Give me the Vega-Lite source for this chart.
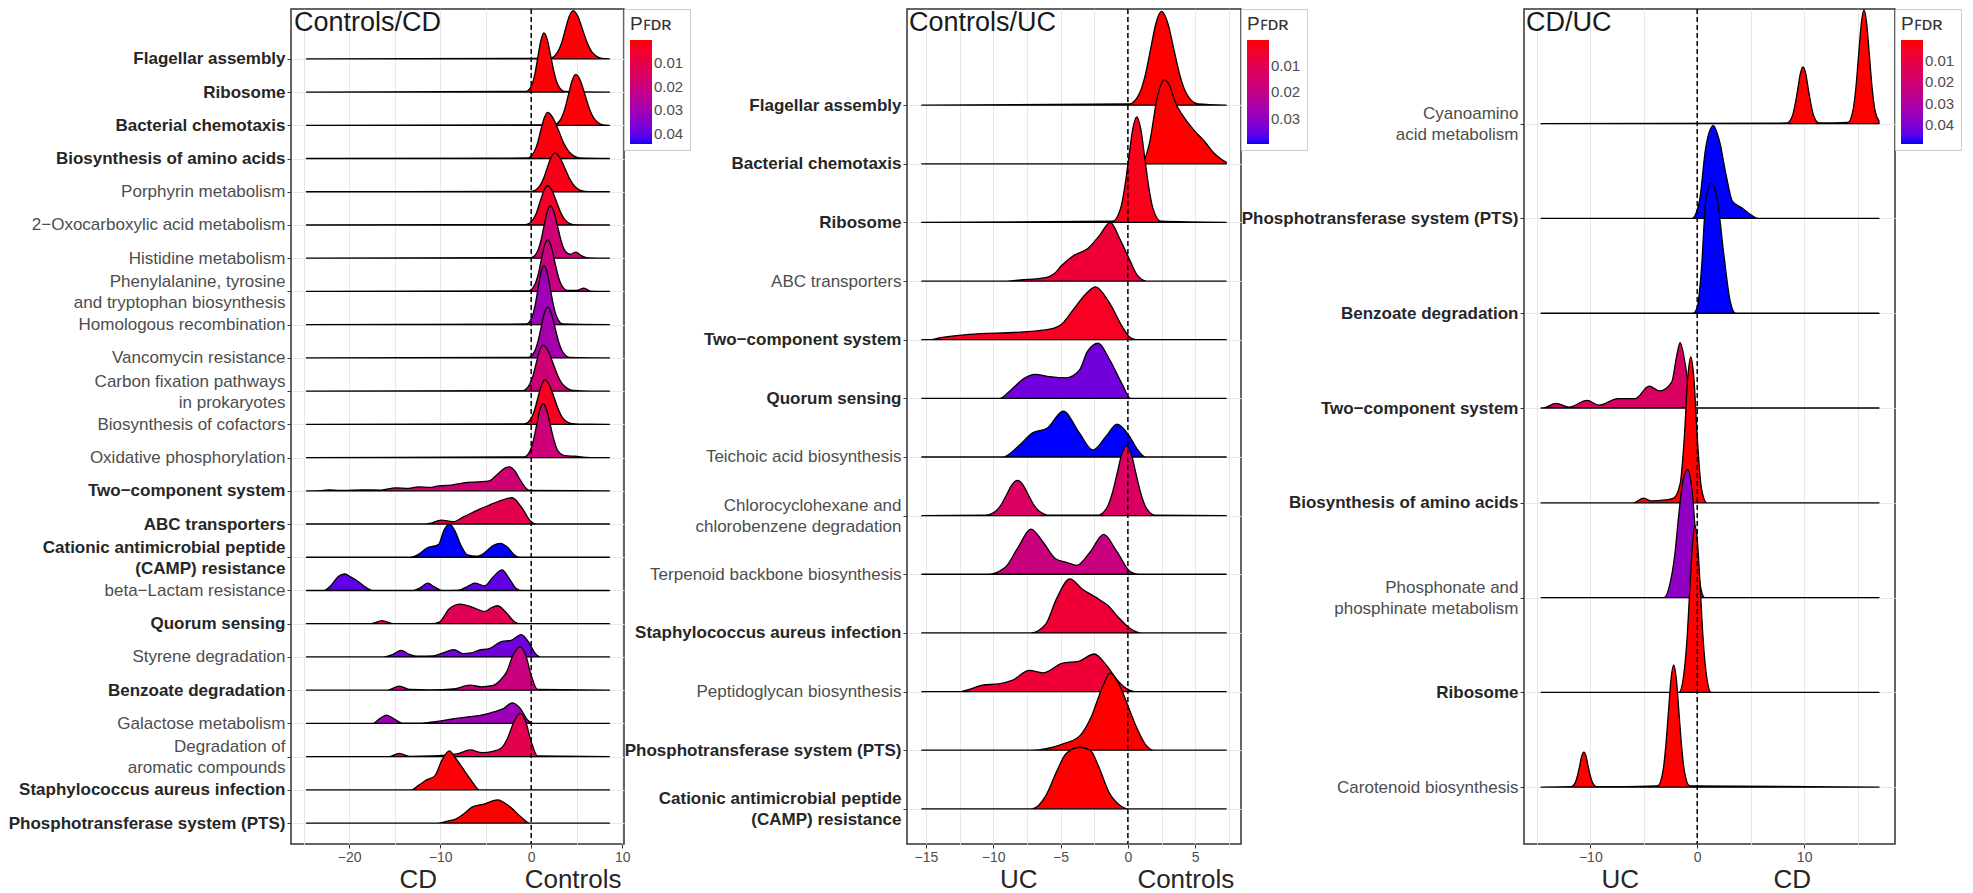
{
  "$schema": "https://vega.github.io/schema/vega-lite/v6.json",
  "background": "white",
  "padding": {"left": 7, "top": 7, "right": 5, "bottom": 0},
  "config": {
    "font": "Liberation Sans",
    "view": {"stroke": "#333333", "strokeWidth": 1.5},
    "axis": {"domain": false, "gridColor": "#e8e8e8", "gridWidth": 1, "tickColor": "#333333", "tickSize": 4, "tickWidth": 1, "labelColor": "#4d4d4d", "labelFont": "Liberation Sans", "labelOverlap": false, "labelBound": false, "labelFlush": false, "labelPadding": 2, "labelLimit": 0},
    "axisX": {"labelFontSize": 14},
    "axisY": {"labelFontSize": 17, "labelLineHeight": 21},
    "legend": {"offset": 0, "padding": 6, "strokeColor": "#cccccc", "gradientLength": 104, "gradientThickness": 22, "labelFontSize": 15, "labelColor": "#4d4d4d", "labelOffset": 3, "titleFontSize": 19, "titleFontWeight": "normal", "titleColor": "#333333", "titlePadding": 6, "gradientStrokeWidth": 0}
  },
  "datasets": {
    "ridges": [
      {"panel":1,"row":24,"p":0.0005,"x":[-24.7,2.05,2.9,3.33,3.75,4.18,4.6,5.13,5.65,6.18,6.7,7.75,8.6],"d":[0,0.015,0.2,0.47,0.88,1.28,1.45,1.28,0.88,0.47,0.2,0.015,0]},
      {"panel":1,"row":23,"p":0.0005,"x":[-24.7,-0.55,0.1,0.43,0.75,1.08,1.4,1.78,2.15,2.53,2.9,3.65,8.6],"d":[0,0.02,0.24,0.58,1.08,1.57,1.78,1.57,1.08,0.58,0.24,0.02,0]},
      {"panel":1,"row":22,"p":0.0005,"x":[-24.7,2.5,3.3,3.7,4.1,4.5,4.9,5.4,5.9,6.4,6.9,7.9,8.6],"d":[0,0.015,0.21,0.5,0.93,1.35,1.53,1.35,0.93,0.5,0.21,0.015,0]},
      {"panel":1,"row":21,"p":0.001,"x":[-24.7,-0.45,0.3,0.68,1.05,1.43,1.8,2.4,3.0,3.6,4.2,5.4,8.6],"d":[0,0.015,0.19,0.45,0.85,1.22,1.39,1.22,0.85,0.45,0.19,0.015,0]},
      {"panel":1,"row":20,"p":0.002,"x":[-24.7,0.05,0.9,1.33,1.75,2.18,2.6,3.15,3.7,4.25,4.8,5.9,8.6],"d":[0,0.013,0.16,0.38,0.71,1.03,1.17,1.03,0.71,0.38,0.16,0.013,0]},
      {"panel":1,"row":19,"p":0.004,"x":[-24.7,-0.6,0.2,0.6,1.0,1.4,1.8,2.28,2.75,3.23,3.7,4.65,8.6],"d":[0,0.013,0.16,0.38,0.72,1.04,1.18,1.04,0.72,0.38,0.16,0.013,0]},
      {"panel":1,"row":18,"p":0.018,"x":[-24.7,0.0,0.7,1.05,1.4,1.75,2.1,2.5,2.9,3.3,3.7,4.3,4.9,5.5,6.3,8.6],"d":[0,0.017,0.21,0.51,0.96,1.39,1.58,1.39,0.96,0.51,0.23,0.12,0.18,0.08,0.01,0]},
      {"panel":1,"row":17,"p":0.02,"x":[-24.7,-0.3,0.4,0.75,1.1,1.45,1.8,2.18,2.55,2.93,3.3,4.0,5.0,5.8,6.5,8.6],"d":[0,0.017,0.21,0.5,0.94,1.37,1.55,1.37,0.94,0.5,0.21,0.03,0.03,0.1,0.01,0]},
      {"panel":1,"row":16,"p":0.031,"x":[-24.7,-0.55,0.1,0.43,0.75,1.08,1.4,1.75,2.1,2.45,2.8,3.5,8.6],"d":[0,0.02,0.24,0.58,1.08,1.57,1.78,1.57,1.08,0.58,0.24,0.02,0]},
      {"panel":1,"row":15,"p":0.029,"x":[-24.7,-0.3,0.4,0.75,1.1,1.45,1.8,2.2,2.6,3.0,3.4,4.2,8.6],"d":[0,0.017,0.21,0.5,0.93,1.35,1.53,1.35,0.93,0.5,0.21,0.017,0]},
      {"panel":1,"row":14,"p":0.018,"x":[-24.7,-0.95,-0.2,0.18,0.55,0.93,1.3,1.85,2.4,2.95,3.5,4.6,5.6,8.6],"d":[0,0.015,0.19,0.45,0.84,1.22,1.38,1.22,0.84,0.45,0.19,0.02,0.005,0]},
      {"panel":1,"row":13,"p":0.003,"x":[-24.7,-0.75,0.0,0.38,0.75,1.13,1.5,2.0,2.5,3.0,3.5,4.5,5.3,8.6],"d":[0,0.015,0.18,0.44,0.82,1.18,1.34,1.18,0.82,0.44,0.18,0.02,0.005,0]},
      {"panel":1,"row":12,"p":0.019,"x":[-24.7,-0.8,-0.1,0.25,0.6,0.95,1.3,1.7,2.1,2.5,2.9,3.7,4.8,6.5,8.6],"d":[0,0.018,0.22,0.53,0.98,1.43,1.62,1.43,0.98,0.53,0.22,0.06,0.04,0.0,0]},
      {"panel":1,"row":11,"p":0.018,"x":[-24.7,-23.0,-22.2,-21.0,-18.5,-16.5,-14.9,-13.5,-12.4,-11.2,-10.1,-8.8,-7.4,-5.9,-4.6,-3.7,-2.9,-2.4,-1.8,-1.3,-0.7,-0.2,8.6],"d":[0,0.005,0.03,0.01,0.03,0.02,0.09,0.07,0.12,0.1,0.15,0.17,0.24,0.27,0.3,0.5,0.68,0.72,0.6,0.37,0.12,0.01,0]},
      {"panel":1,"row":10,"p":0.011,"x":[-24.7,-12.0,-11.0,-9.9,-8.6,-7.4,-5.9,-4.6,-3.2,-2.1,-1.1,0.0,0.6,8.6],"d":[0,0,0.03,0.12,0.07,0.22,0.42,0.57,0.72,0.79,0.52,0.07,0,0]},
      {"panel":1,"row":9,"p":0.0443,"x":[-24.7,-13.3,-12.3,-11.5,-10.2,-9.6,-9.0,-8.4,-7.7,-7.0,-6.0,-5.2,-4.2,-3.4,-2.6,-1.8,-1.2,8.6],"d":[0,0,0.1,0.27,0.38,0.8,1.0,0.8,0.35,0.07,0.03,0.12,0.35,0.42,0.3,0.06,0,0]},
      {"panel":1,"row":8,"p":0.04,"x":[-24.7,-22.8,-22.0,-21.2,-20.5,-19.8,-18.9,-18.2,-17.4,-13.0,-12.2,-11.4,-10.6,-9.8,-8.0,-7.0,-6.2,-5.1,-4.2,-3.2,-2.4,-1.6,-1.0,8.6],"d":[0,0,0.15,0.42,0.5,0.4,0.25,0.1,0,0,0.08,0.22,0.1,0,0.01,0.12,0.22,0.14,0.4,0.62,0.35,0.05,0,0]},
      {"panel":1,"row":7,"p":0.012,"x":[-24.7,-17.6,-16.4,-15.2,-11.0,-10.1,-9.0,-7.8,-6.5,-5.1,-4.4,-3.7,-2.8,-1.8,-1.2,8.6],"d":[0,0,0.09,0,0,0.05,0.45,0.59,0.5,0.37,0.48,0.54,0.35,0.05,0,0]},
      {"panel":1,"row":6,"p":0.038,"x":[-24.7,-16.2,-15.2,-14.3,-13.4,-12.5,-10.8,-9.7,-8.5,-7.5,-6.6,-5.8,-4.6,-3.2,-2.2,-1.1,-0.3,0.4,1.0,8.6],"d":[0,0,0.08,0.2,0.08,0.02,0.03,0.12,0.22,0.1,0.12,0.2,0.25,0.47,0.5,0.67,0.45,0.12,0,0]},
      {"panel":1,"row":5,"p":0.02,"x":[-24.7,-15.8,-14.5,-13.3,-11.0,-8.5,-6.7,-5.5,-4.2,-3.4,-2.7,-2.0,-1.2,-0.6,0.0,0.7,8.6],"d":[0,0,0.12,0.02,0.01,0.04,0.15,0.1,0.14,0.3,0.55,1.05,1.3,1.05,0.45,0.02,0]},
      {"panel":1,"row":4,"p":0.031,"x":[-24.7,-17.4,-16.6,-15.9,-15.0,-14.2,-12.0,-10.1,-8.5,-7.4,-5.5,-4.1,-3.0,-2.1,-1.2,-0.4,0.2,8.6],"d":[0,0,0.15,0.25,0.12,0.01,0.01,0.07,0.14,0.18,0.25,0.35,0.45,0.62,0.45,0.1,0,0]},
      {"panel":1,"row":3,"p":0.011,"x":[-24.7,-15.6,-14.5,-13.4,-11.0,-8.2,-6.7,-5.4,-4.2,-3.3,-2.6,-1.9,-1.2,-0.6,0.0,0.7,8.6],"d":[0,0,0.1,0.01,0.02,0.08,0.2,0.12,0.16,0.25,0.55,1.05,1.3,1.05,0.45,0.02,0]},
      {"panel":1,"row":2,"p":0.0005,"x":[-24.7,-13.2,-12.3,-11.5,-10.6,-9.8,-9.0,-8.3,-7.4,-6.5,-5.7,8.6],"d":[0,0,0.15,0.3,0.42,0.9,1.17,0.95,0.6,0.25,0,0]},
      {"panel":1,"row":1,"p":0.0,"x":[-24.7,-10.3,-9.2,-8.3,-7.4,-6.5,-5.1,-3.7,-2.3,-1.1,-0.2,8.6],"d":[0,0,0.06,0.12,0.28,0.48,0.58,0.7,0.48,0.18,0,0]},

      {"panel":2,"row":13,"p":0.0,"x":[-15.3,0.1,0.9,1.3,1.7,2.1,2.5,2.95,3.4,3.85,4.3,5.2,7.3],"d":[0,0.02,0.22,0.52,0.97,1.41,1.6,1.41,0.97,0.52,0.22,0.02,0]},
      {"panel":2,"row":12,"p":0.0,"x":[-15.3,1.0,1.6,2.2,2.7,3.1,3.5,4.0,4.4,5.0,5.7,6.4,7.0,7.3],"d":[0,0,0.35,1.15,1.43,1.33,1.06,0.85,0.72,0.55,0.38,0.18,0.07,0.03]},
      {"panel":2,"row":11,"p":0.002,"x":[-15.3,-1.14,-0.54,-0.24,0.06,0.36,0.66,0.96,1.26,1.56,1.86,2.46,7.3],"d":[0,0.02,0.24,0.59,1.09,1.59,1.8,1.59,1.09,0.59,0.24,0.02,0]},
      {"panel":2,"row":10,"p":0.006,"x":[-15.3,-9.0,-8.0,-6.1,-5.5,-4.9,-4.0,-3.0,-2.1,-1.3,-0.6,0.1,0.7,1.4,7.3],"d":[0,0,0.02,0.06,0.12,0.27,0.44,0.55,0.78,1.0,0.72,0.38,0.1,0,0]},
      {"panel":2,"row":9,"p":0.003,"x":[-15.3,-14.6,-14.0,-11.8,-8.0,-5.8,-4.9,-4.0,-3.0,-2.4,-1.4,-0.4,0.1,0.6,7.3],"d":[0,0,0.03,0.09,0.13,0.18,0.27,0.53,0.81,0.9,0.64,0.22,0.05,0,0]},
      {"panel":2,"row":8,"p":0.034,"x":[-15.3,-9.5,-8.7,-7.7,-6.9,-5.8,-4.6,-3.6,-3.0,-2.2,-1.4,-0.4,0.2,7.3],"d":[0,0,0.14,0.34,0.41,0.37,0.35,0.48,0.8,0.94,0.68,0.23,0,0]},
      {"panel":2,"row":7,"p":0.0397,"x":[-15.3,-9.3,-8.1,-7.1,-6.0,-4.8,-3.6,-2.6,-1.6,-0.8,0.1,0.7,1.3,7.3],"d":[0,0,0.19,0.41,0.49,0.78,0.41,0.12,0.36,0.56,0.36,0.13,0,0]},
      {"panel":2,"row":6,"p":0.013,"x":[-15.3,-10.6,-9.8,-9.4,-9.0,-8.6,-8.2,-7.8,-7.4,-7.0,-6.6,-5.8,-2.2,-1.5,-1.15,-0.8,-0.45,-0.1,0.25,0.6,0.95,1.3,2.0,7.3],"d":[0,0.007,0.08,0.19,0.36,0.53,0.6,0.53,0.36,0.19,0.08,0.007,0.01,0.16,0.39,0.72,1.05,1.19,1.05,0.72,0.39,0.16,0.01,0]},
      {"panel":2,"row":5,"p":0.018,"x":[-15.3,-10.4,-9.1,-8.2,-7.2,-6.3,-5.4,-4.5,-3.8,-2.8,-1.8,-0.8,0.2,0.8,7.3],"d":[0,0,0.12,0.44,0.77,0.55,0.27,0.2,0.15,0.38,0.68,0.38,0.04,0,0]},
      {"panel":2,"row":4,"p":0.006,"x":[-15.3,-7.2,-6.1,-5.3,-4.3,-3.4,-2.4,-1.5,-0.6,0.2,1.0,7.3],"d":[0,0,0.15,0.58,0.92,0.75,0.61,0.47,0.24,0.07,0,0]},
      {"panel":2,"row":3,"p":0.006,"x":[-15.3,-12.4,-11.6,-10.8,-9.6,-8.6,-7.3,-6.3,-4.9,-3.6,-2.5,-1.6,-0.8,-0.1,0.5,7.3],"d":[0,0,0.05,0.11,0.13,0.19,0.36,0.32,0.48,0.52,0.64,0.45,0.2,0.05,0,0]},
      {"panel":2,"row":2,"p":0.0,"x":[-15.3,-7.2,-4.9,-3.6,-2.7,-1.9,-1.3,-0.6,0.1,0.7,1.3,1.9,7.3],"d":[0,0,0.1,0.24,0.58,1.07,1.32,1.1,0.7,0.36,0.1,0,0]},
      {"panel":2,"row":1,"p":0.0,"x":[-15.3,-7.1,-6.1,-5.3,-4.6,-3.6,-2.8,-2.2,-1.4,-0.6,0.0,7.3],"d":[0,0,0.22,0.63,0.94,1.05,1.0,0.74,0.28,0.06,0,0]},

      {"panel":3,"row":8,"p":0.0,"x":[-14.6,8.4,8.9,9.15,9.4,9.65,9.9,10.15,10.4,10.65,10.9,11.4,14.1,14.6,14.85,15.1,15.35,15.6,15.85,16.1,16.35,16.6,17.0],"d":[0,0.007,0.08,0.2,0.36,0.53,0.6,0.53,0.36,0.2,0.08,0.007,0.013,0.16,0.39,0.73,1.06,1.2,1.06,0.73,0.39,0.16,0.03]},
      {"panel":3,"row":7,"p":0.049,"x":[-14.6,-0.5,0.2,0.8,1.5,2.1,2.7,3.3,4.2,5.0,5.7,17.0],"d":[0,0,0.18,0.75,0.98,0.81,0.46,0.18,0.11,0.04,0,0]},
      {"panel":3,"row":6,"p":0.049,"x":[-14.6,-0.4,0.0,0.4,0.8,1.3,1.9,2.5,3.1,3.6,17.0],"d":[0,0,0.06,0.47,1.18,1.37,1.18,0.61,0.12,0,0]},
      {"panel":3,"row":5,"p":0.016,"x":[-14.6,-14.4,-13.2,-12.0,-10.3,-9.2,-7.4,-5.8,-4.5,-3.5,-2.4,-1.9,-1.6,-1.1,-0.5,17.0],"d":[0,0,0.05,0.01,0.08,0.03,0.1,0.1,0.23,0.18,0.27,0.56,0.69,0.45,0,0]},
      {"panel":3,"row":4,"p":0.0,"x":[-14.6,-6.0,-5.0,-4.3,-3.0,-2.2,-1.6,-1.2,-0.9,-0.6,-0.3,0.0,0.4,0.9,17.0],"d":[0,0,0.05,0.02,0.03,0.05,0.2,0.7,1.3,1.54,1.3,0.7,0.15,0,0]},
      {"panel":3,"row":3,"p":0.037,"x":[-14.6,-3.1,-2.6,-2.1,-1.7,-1.3,-0.9,-0.5,-0.1,0.3,0.7,17.0],"d":[0,0,0.12,0.45,0.9,1.25,1.35,1.15,0.6,0.12,0,0]},
      {"panel":3,"row":2,"p":0.0,"x":[-14.6,-1.7,-1.2,-0.95,-0.7,-0.45,-0.2,0.05,0.3,0.55,0.8,1.3,17.0],"d":[0,0,0.24,0.57,1.07,1.55,1.76,1.55,1.07,0.57,0.24,0,0]},
      {"panel":3,"row":1,"p":0.0,"x":[-14.6,-11.8,-11.4,-11.2,-11.0,-10.8,-10.6,-10.4,-10.2,-10.0,-9.8,-9.4,-3.7,-3.2,-2.95,-2.7,-2.45,-2.2,-1.95,-1.7,-1.45,-1.2,-0.7,17.0],"d":[0,0.004,0.05,0.12,0.22,0.33,0.37,0.33,0.22,0.12,0.05,0.004,0.014,0.17,0.42,0.78,1.14,1.29,1.14,0.78,0.42,0.17,0.014,0]}
    ]
  },
  "bounds": "flush",
  "spacing": 283,
  "resolve": {"scale": {"color": "independent", "x": "independent", "y": "independent"}, "legend": {"color": "independent"}},
  "hconcat": [
    {
      "width": 333,
      "height": 835,
      "layer": [
        {
          "data": {"name": "ridges"},
          "transform": [{"filter": "datum.panel === 1"}, {"flatten": ["x", "d"]}, {"calculate": "datum.row + datum.d", "as": "top"}],
          "mark": {"type": "area", "interpolate": "monotone", "stroke": "black", "strokeWidth": 1.3, "strokeJoin": "round", "fillOpacity": 1},
          "encoding": {
            "x": {"field": "x", "type": "quantitative", "scale": {"domain": [-26.4, 10.2], "nice": false, "zero": false},
              "axis": {"title": null, "tickCount": 100, "format": "d", "labelOverlap": false, "values": [-25, -20, -15, -10, -5, 0, 5, 10], "labelExpr": "datum.value % 10 === 0 ? datum.label : ''", "tickOpacity": {"condition": {"test": "datum.value % 10 !== 0", "value": 0}, "value": 1}}},
            "y": {"field": "top", "type": "quantitative", "scale": {"domain": [0.37, 25.5], "nice": false, "zero": false},
              "axis": {"title": null, "tickCount": 100, "labelOverlap": false, "labelLimit": 0, "values": [1,2,3,4,5,6,7,8,9,10,11,12,13,14,15,16,17,18,19,20,21,22,23,24],
                "labelExpr": "['Phosphotransferase system (PTS)','Staphylococcus aureus infection',['Degradation of\u00a0\u00a0\u00a0\u00a0\u00a0\u00a0\u00a0\u00a0\u00a0\u00a0','aromatic compounds'],'Galactose metabolism','Benzoate degradation','Styrene degradation','Quorum sensing','beta\u2212Lactam resistance',['Cationic antimicrobial peptide','(CAMP) resistance'],'ABC transporters','Two\u2212component system','Oxidative phosphorylation','Biosynthesis of cofactors',['Carbon fixation pathways','in prokaryotes\u00a0\u00a0\u00a0\u00a0\u00a0\u00a0\u00a0\u00a0\u00a0\u00a0\u00a0\u00a0\u00a0\u00a0\u00a0\u00a0\u00a0\u00a0'],'Vancomycin resistance','Homologous recombination',['Phenylalanine, tyrosine\u00a0\u00a0\u00a0\u00a0\u00a0\u00a0\u00a0\u00a0','and tryptophan biosynthesis'],'Histidine metabolism','2\u2212Oxocarboxylic acid metabolism','Porphyrin metabolism','Biosynthesis of amino acids','Bacterial chemotaxis','Ribosome','Flagellar assembly'][round(datum.value) - 1]",
                "labelOffset": {"condition": {"test": "indexof([3,9,14,17], round(datum.value)) >= 0", "value": -10}, "value": 0},
                "labelFontWeight": {"condition": {"test": "indexof([1,2,5,7,9,10,11,21,22,23,24], round(datum.value)) >= 0", "value": "bold"}, "value": "normal"},
                "labelColor": {"condition": {"test": "indexof([1,2,5,7,9,10,11,21,22,23,24], round(datum.value)) >= 0", "value": "#262626"}, "value": "#4d4d4d"}}},
            "y2": {"field": "row"},
            "color": {"field": "p", "type": "quantitative", "scale": {"domain": [0.0443, 0], "range": ["#0000ff", "#ff0000"], "interpolate": "lab"},
              "legend": {"title": "P\ua730\u1d05\u0280", "values": [0.01, 0.02, 0.03, 0.04], "format": ".2f"}},
            "detail": {"field": "row"}
          }
        },
        {"data": {"values": [{"v": 0}]}, "mark": {"type": "rule", "color": "black", "strokeWidth": 1.5, "strokeDash": [5, 3]}, "encoding": {"x": {"field": "v", "type": "quantitative"}}},
        {"data": {"values": [{"t": "Controls/CD"}]}, "mark": {"type": "text", "align": "left", "baseline": "top", "fontSize": 27, "dx": 3, "dy": 1, "color": "#1a1a1a"}, "encoding": {"x": {"datum": -26.4}, "y": {"datum": 25.5}, "text": {"field": "t"}}},
        {"data": {"values": [{"t": "CD"}]}, "mark": {"type": "text", "align": "center", "baseline": "alphabetic", "fontSize": 26, "dy": 44, "color": "#262626"}, "encoding": {"x": {"datum": -12.4}, "y": {"datum": 0.37}, "text": {"field": "t"}}},
        {"data": {"values": [{"t": "Controls"}]}, "mark": {"type": "text", "align": "center", "baseline": "alphabetic", "fontSize": 26, "dy": 44, "color": "#262626"}, "encoding": {"x": {"datum": 4.6}, "y": {"datum": 0.37}, "text": {"field": "t"}}}
      ]
    },
    {
      "width": 334,
      "height": 835,
      "layer": [
        {
          "data": {"name": "ridges"},
          "transform": [{"filter": "datum.panel === 2"}, {"flatten": ["x", "d"]}, {"calculate": "datum.row + datum.d", "as": "top"}],
          "mark": {"type": "area", "interpolate": "monotone", "stroke": "black", "strokeWidth": 1.3, "strokeJoin": "round", "fillOpacity": 1},
          "encoding": {
            "x": {"field": "x", "type": "quantitative", "scale": {"domain": [-16.4, 8.4], "nice": false, "zero": false},
              "axis": {"title": null, "tickCount": 100, "format": "d", "labelOverlap": false, "values": [-15, -12.5, -10, -7.5, -5, -2.5, 0, 2.5, 5, 7.5], "labelExpr": "datum.value % 5 === 0 ? datum.label : ''", "tickOpacity": {"condition": {"test": "datum.value % 5 !== 0", "value": 0}, "value": 1}}},
            "y": {"field": "top", "type": "quantitative", "scale": {"domain": [0.40, 14.64], "nice": false, "zero": false},
              "axis": {"title": null, "tickCount": 100, "labelOverlap": false, "labelLimit": 0, "values": [1,2,3,4,5,6,7,8,9,10,11,12,13],
                "labelExpr": "[['Cationic antimicrobial peptide','(CAMP) resistance'],'Phosphotransferase system (PTS)','Peptidoglycan biosynthesis','Staphylococcus aureus infection','Terpenoid backbone biosynthesis',['Chlorocyclohexane and\u00a0\u00a0\u00a0\u00a0\u00a0\u00a0','chlorobenzene degradation'],'Teichoic acid biosynthesis','Quorum sensing','Two\u2212component system','ABC transporters','Ribosome','Bacterial chemotaxis','Flagellar assembly'][round(datum.value) - 1]",
                "labelOffset": {"condition": {"test": "indexof([1,6], round(datum.value)) >= 0", "value": -10}, "value": 0},
                "labelFontWeight": {"condition": {"test": "indexof([1,2,4,8,9,11,12,13], round(datum.value)) >= 0", "value": "bold"}, "value": "normal"},
                "labelColor": {"condition": {"test": "indexof([1,2,4,8,9,11,12,13], round(datum.value)) >= 0", "value": "#262626"}, "value": "#4d4d4d"}}},
            "y2": {"field": "row"},
            "color": {"field": "p", "type": "quantitative", "scale": {"domain": [0.0397, 0], "range": ["#0000ff", "#ff0000"], "interpolate": "lab"},
              "legend": {"title": "P\ua730\u1d05\u0280", "values": [0.01, 0.02, 0.03], "format": ".2f"}},
            "detail": {"field": "row"}
          }
        },
        {"data": {"values": [{"v": 0}]}, "mark": {"type": "rule", "color": "black", "strokeWidth": 1.5, "strokeDash": [5, 3]}, "encoding": {"x": {"field": "v", "type": "quantitative"}}},
        {"data": {"values": [{"t": "Controls/UC"}]}, "mark": {"type": "text", "align": "left", "baseline": "top", "fontSize": 27, "dx": 2, "dy": 1, "color": "#1a1a1a"}, "encoding": {"x": {"datum": -16.4}, "y": {"datum": 14.64}, "text": {"field": "t"}}},
        {"data": {"values": [{"t": "UC"}]}, "mark": {"type": "text", "align": "center", "baseline": "alphabetic", "fontSize": 26, "dy": 44, "color": "#262626"}, "encoding": {"x": {"datum": -8.1}, "y": {"datum": 0.40}, "text": {"field": "t"}}},
        {"data": {"values": [{"t": "Controls"}]}, "mark": {"type": "text", "align": "center", "baseline": "alphabetic", "fontSize": 26, "dy": 44, "color": "#262626"}, "encoding": {"x": {"datum": 4.3}, "y": {"datum": 0.40}, "text": {"field": "t"}}}
      ]
    },
    {
      "width": 371,
      "height": 835,
      "layer": [
        {
          "data": {"name": "ridges"},
          "transform": [{"filter": "datum.panel === 3"}, {"flatten": ["x", "d"]}, {"calculate": "datum.row + datum.d", "as": "top"}],
          "mark": {"type": "area", "interpolate": "monotone", "stroke": "black", "strokeWidth": 1.3, "strokeJoin": "round", "fillOpacity": 1},
          "encoding": {
            "x": {"field": "x", "type": "quantitative", "scale": {"domain": [-16.2, 18.5], "nice": false, "zero": false},
              "axis": {"title": null, "tickCount": 100, "format": "d", "labelOverlap": false, "values": [-15, -10, -5, 0, 5, 10, 15], "labelExpr": "datum.value % 10 === 0 ? datum.label : ''", "tickOpacity": {"condition": {"test": "datum.value % 10 !== 0", "value": 0}, "value": 1}}},
            "y": {"field": "top", "type": "quantitative", "scale": {"domain": [0.40, 9.21], "nice": false, "zero": false},
              "axis": {"title": null, "tickCount": 100, "labelOverlap": false, "labelLimit": 0, "values": [1,2,3,4,5,6,7,8],
                "labelExpr": "['Carotenoid biosynthesis','Ribosome',['Phosphonate and\u00a0\u00a0\u00a0\u00a0\u00a0\u00a0\u00a0\u00a0\u00a0\u00a0\u00a0','phosphinate metabolism'],'Biosynthesis of amino acids','Two\u2212component system','Benzoate degradation','Phosphotransferase system (PTS)',['Cyanoamino\u00a0\u00a0\u00a0\u00a0\u00a0\u00a0','acid metabolism']][round(datum.value) - 1]",
                "labelOffset": {"condition": {"test": "indexof([3,8], round(datum.value)) >= 0", "value": -10}, "value": 0},
                "labelFontWeight": {"condition": {"test": "indexof([2,4,5,6,7], round(datum.value)) >= 0", "value": "bold"}, "value": "normal"},
                "labelColor": {"condition": {"test": "indexof([2,4,5,6,7], round(datum.value)) >= 0", "value": "#262626"}, "value": "#4d4d4d"}}},
            "y2": {"field": "row"},
            "color": {"field": "p", "type": "quantitative", "scale": {"domain": [0.049, 0], "range": ["#0000ff", "#ff0000"], "interpolate": "lab"},
              "legend": {"title": "P\ua730\u1d05\u0280", "values": [0.01, 0.02, 0.03, 0.04], "format": ".2f"}},
            "detail": {"field": "row"}
          }
        },
        {"data": {"values": [{"v": 0}]}, "mark": {"type": "rule", "color": "black", "strokeWidth": 1.5, "strokeDash": [5, 3]}, "encoding": {"x": {"field": "v", "type": "quantitative"}}},
        {"data": {"values": [{"t": "CD/UC"}]}, "mark": {"type": "text", "align": "left", "baseline": "top", "fontSize": 27, "dx": 2, "dy": 1, "color": "#1a1a1a"}, "encoding": {"x": {"datum": -16.2}, "y": {"datum": 9.21}, "text": {"field": "t"}}},
        {"data": {"values": [{"t": "UC"}]}, "mark": {"type": "text", "align": "center", "baseline": "alphabetic", "fontSize": 26, "dy": 44, "color": "#262626"}, "encoding": {"x": {"datum": -7.2}, "y": {"datum": 0.40}, "text": {"field": "t"}}},
        {"data": {"values": [{"t": "CD"}]}, "mark": {"type": "text", "align": "center", "baseline": "alphabetic", "fontSize": 26, "dy": 44, "color": "#262626"}, "encoding": {"x": {"datum": 8.9}, "y": {"datum": 0.40}, "text": {"field": "t"}}}
      ]
    }
  ]
}
